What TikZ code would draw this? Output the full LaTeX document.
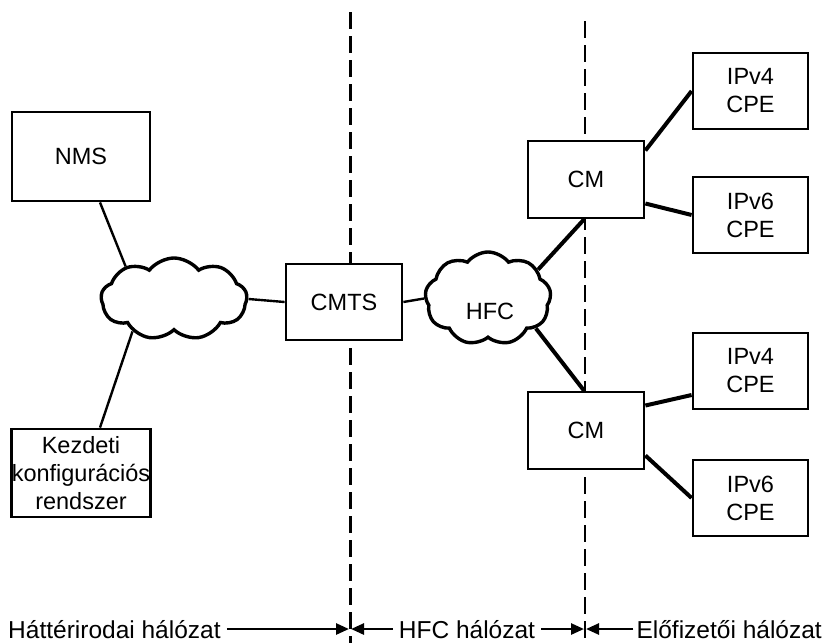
\documentclass[tikz,border=0pt]{standalone}
\usepackage{fontspec}
\setmainfont{Liberation Sans}
\usetikzlibrary{shapes.symbols,arrows.meta,calc}
\tikzset{
  boxnode/.style={draw,line width=2.8pt,fill=white,rectangle,inner sep=0pt,align=center,font=\fontsize{23.5}{28}\selectfont},
  cloudnode/.style={draw,cloud,cloud puffs=9,cloud puff arc=105,line width=3.4pt,fill=white,inner sep=0pt},
  thinlink/.style={line width=2.4pt},
  thicklink/.style={line width=4pt},
  divider/.style={line width=3pt,dash pattern=on 17pt off 7pt},
  divider2/.style={line width=2.2pt,dash pattern=on 17pt off 7pt},
  lbl/.style={font=\fontsize{24.5}{28}\selectfont,inner sep=0pt},
  zonearrow/.style={line width=2.6pt,-{Triangle[length=13pt,width=11pt]}}
}
\begin{document}
\begin{tikzpicture}[x=1pt,y=-1pt]
\useasboundingbox (0,0) rectangle (827,643);
% dividers
\coordinate (d1t) at (350,12);
\coordinate (d1b) at (350,643);
\coordinate (d2t) at (585,21);
\coordinate (d2b) at (585,643);
\draw[divider] (d1t) -- (d1b);
\draw[divider2] (d2t) -- (d2b);
% clouds
\node[cloudnode,aspect=1.8,minimum width=146pt,minimum height=82pt] (lc) at (174,299) {};
\node[cloudnode,aspect=1.35,minimum width=126pt,minimum height=93pt] (hc) at (488,298.5) {};
% boxes and links
\node[boxnode,minimum width=138pt,minimum height=89pt] (nms) at (81,156.5) {NMS};
\node[boxnode,minimum width=138pt,minimum height=88pt] (kez) at (81,473) {Kezdeti\\konfigurációs\\rendszer};
\draw[thinlink] ($(nms.south)+(19,0)$) -- (lc.146);
\draw[thinlink] ($(kez.north)+(19,0)$) -- (lc.218);
\node[boxnode,minimum width=116pt,minimum height=76pt] (cmts) at (344,302) {CMTS};
\draw[thinlink] (lc.east) -- (cmts.west);
\draw[thinlink] (cmts.east) -- (hc.west);
\node[font=\fontsize{23.5}{28}\selectfont] (hfc) at (490,311) {HFC};
\node[boxnode,minimum width=116pt,minimum height=77pt] (cm1) at (586,179.5) {CM};
\node[boxnode,minimum width=116pt,minimum height=77pt] (cm2) at (586,430.5) {CM};
\draw[thicklink] (hc.30) -- ($(cm1.south)+(-2,0)$);
\draw[thicklink] (hc.-32) -- ($(cm2.north)+(-2,0)$);
\node[boxnode,minimum width=115pt,minimum height=76pt] (v4a) at (750.5,91) {IPv4\\CPE};
\node[boxnode,minimum width=115pt,minimum height=76pt] (v6a) at (750.5,215) {IPv6\\CPE};
\node[boxnode,minimum width=115pt,minimum height=76pt] (v4b) at (750.5,371) {IPv4\\CPE};
\node[boxnode,minimum width=115pt,minimum height=76pt] (v6b) at (750.5,498) {IPv6\\CPE};
\draw[thicklink] ($(cm1.east)+(0,-29)$) -- (v4a.west);
\draw[thicklink] ($(cm1.east)+(0,24)$) -- (v6a.west);
\draw[thicklink] ($(cm2.east)+(0,-25)$) -- ($(v4b.west)+(0,24)$);
\draw[thicklink] ($(cm2.east)+(0,25)$) -- (v6b.west);
% zone labels
\node[lbl,anchor=west] (zl) at (8,630) {Háttérirodai hálózat};
\node[lbl] (zm) at (467,630) {HFC hálózat};
\node[lbl,anchor=east] (zr) at (822,630) {Előfizetői hálózat};
\coordinate (a1) at (350,629);
\coordinate (a2) at (585,629);
\draw[zonearrow] ($(zl.east)+(6,-1)$) -- ($(a1)+(-1,0)$);
\draw[zonearrow] ($(zm.west)+(-6,-1)$) -- ($(a1)+(1,0)$);
\draw[zonearrow] ($(zm.east)+(6,-1)$) -- ($(a2)+(-1,0)$);
\draw[zonearrow] ($(zr.west)+(-3,-1)$) -- ($(a2)+(1,0)$);
\end{tikzpicture}
\end{document}
